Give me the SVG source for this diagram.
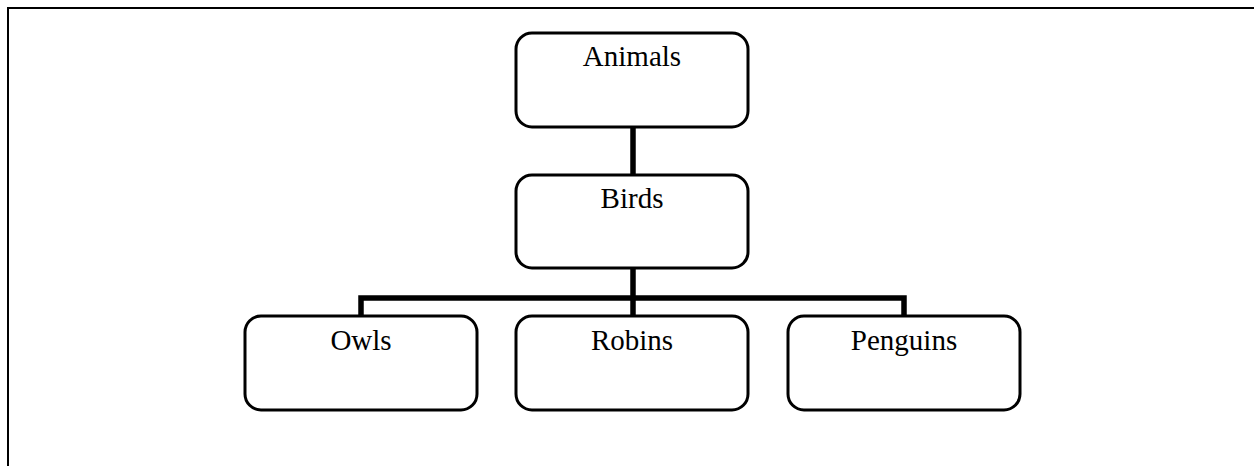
<svg xmlns="http://www.w3.org/2000/svg" width="1254" height="466" viewBox="0 0 1254 466">
  <style>
    .box { fill: #ffffff; stroke: #000000; stroke-width: 3; }
    .label { font-family: "Liberation Serif", "Times New Roman", serif; font-size: 29px; fill: #000000; text-anchor: middle; }
    .link { fill: none; stroke: #000000; stroke-width: 5.5; }
    .frame { fill: none; stroke: #000000; stroke-width: 2; }
  </style>
  <rect width="1254" height="466" fill="#ffffff"/>
  <!-- page frame (left and top edges) -->
  <path class="frame" d="M8,466 V8 H1254"/>

  <g id="connectors">
    <path class="link" d="M633,127 V175"/>
    <path class="link" d="M633,268 V298"/>
    <path class="link" d="M361,316 V298 H904 V316"/>
    <path class="link" d="M633,298 V316"/>
  </g>

  <g id="node-animals">
    <rect class="box" x="516" y="33" width="232" height="94" rx="16"/>
    <text class="label" x="632" y="66">Animals</text>
  </g>
  <g id="node-birds">
    <rect class="box" x="516" y="175" width="232" height="93" rx="16"/>
    <text class="label" x="632" y="208">Birds</text>
  </g>
  <g id="node-owls">
    <rect class="box" x="245" y="316" width="232" height="94" rx="16"/>
    <text class="label" x="361" y="350">Owls</text>
  </g>
  <g id="node-robins">
    <rect class="box" x="516" y="316" width="232" height="94" rx="16"/>
    <text class="label" x="632" y="350">Robins</text>
  </g>
  <g id="node-penguins">
    <rect class="box" x="788" y="316" width="232" height="94" rx="16"/>
    <text class="label" x="904" y="350">Penguins</text>
  </g>
</svg>
